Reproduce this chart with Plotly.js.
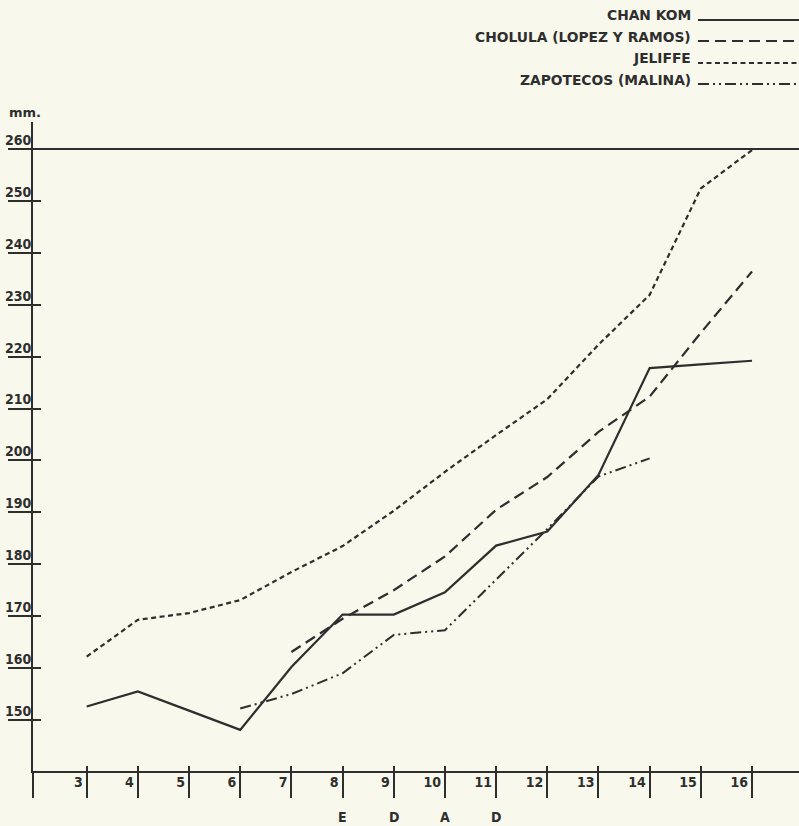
<!DOCTYPE html>
<html>
<head>
<meta charset="utf-8">
<script src="https://cdn.plot.ly/plotly-3.0.1.min.js"></script>
<style>
  html, body { margin: 0; padding: 0; background: #f8f8ec; }
  #chart { width: 799px; height: 826px; }
</style>
</head>
<body>
<div id="chart"></div>
<script>
// ---- data ----
const ages = [3, 4, 5, 6, 7, 8, 9, 10, 11, 12, 13, 14, 15, 16];
const chanKom = [152.6, 155.5, 151.8, 148.1, 160.2, 170.3, 170.3, 174.6, 183.6, 186.3, 197.2, 217.8, 218.5, 219.2];

const cholulaAges = [7, 8, 9, 10, 11, 12, 13, 14, 15, 16];
const cholula = [163.1, 169.5, 175.0, 181.5, 190.5, 196.8, 205.5, 212.3, 224.6, 236.4];

const jeliffe = [162.2, 169.3, 170.6, 173.1, 178.5, 183.5, 190.3, 197.8, 204.9, 211.8, 222.3, 231.9, 252.4, 259.8];

const zapotecosAges = [6, 7, 8, 9, 10, 11, 12, 13, 14];
const zapotecos = [152.2, 155.0, 159.0, 166.4, 167.3, 177.0, 186.8, 196.9, 200.4];

const seriesNames = ['CHAN KOM', 'CHOLULA (LOPEZ Y RAMOS)', 'JELIFFE', 'ZAPOTECOS (MALINA)'];
const yTicks = [150, 160, 170, 180, 190, 200, 210, 220, 230, 240, 250, 260];
const axisWord = ['E', 'D', 'A', 'D'];
const axisWordAges = [8, 9, 10, 11];
const unitLabel = 'mm.';

// ---- styling ----
const ink = '#2e2e2e';
const bg = '#f8f8ec';
const condFam = '"DejaVu Sans Condensed", "Liberation Sans Narrow", sans-serif';
const wideFam = '"DejaVu Sans", "Liberation Sans", sans-serif';
const W = 799, H = 826;
const M = { l: 33, r: 0, t: 122, b: 55 };
const xRange = [1.951, 16.918];
const yRange = [140.17, 265.2];
const plotH = H - M.t - M.b;
const plotW = W - M.l - M.r;
const py = (px) => (H - M.b - px) / plotH;   // pixel y -> paper y
const pxx = (px) => (px - M.l) / plotW;      // pixel x -> paper x

const dashes = ['solid', '11px,6px', '5px,3.5px', '11px,4px,2px,4px,2px,4px'];

const traces = [
  { x: ages, y: chanKom, line: { dash: dashes[0], width: 2.2 } },
  { x: cholulaAges, y: cholula, line: { dash: dashes[1], width: 2.2 } },
  { x: ages, y: jeliffe, line: { dash: dashes[2], width: 2.2 } },
  { x: zapotecosAges, y: zapotecos, line: { dash: dashes[3], width: 2 } }
].map((t, i) => Object.assign(t, {
  type: 'scatter', mode: 'lines', name: seriesNames[i],
  line: Object.assign({ color: ink }, t.line),
  hoverinfo: 'x+y+name'
}));

// legend (text right aligned, sample line on the right)
const legendTextY = [15, 37, 58, 80];
const legendLineY = [20, 41, 63, 84];
const annotations = [];
const shapes = [];
seriesNames.forEach((n, i) => {
  annotations.push({
    text: n, xref: 'paper', yref: 'paper', x: pxx(693), y: py(legendTextY[i]),
    xanchor: 'right', yanchor: 'middle', showarrow: false,
    font: { family: wideFam, size: 13.8, color: ink, weight: 'bold' }
  });
  shapes.push({
    type: 'line', xref: 'paper', yref: 'paper',
    x0: pxx(698), x1: 1, y0: py(legendLineY[i]), y1: py(legendLineY[i]),
    line: { color: ink, width: 2, dash: dashes[i] }
  });
});

// reference line at 260
shapes.push({
  type: 'line', xref: 'paper', yref: 'y', x0: 0, x1: 1, y0: 260, y1: 260,
  line: { color: ink, width: 2 }
});

// unit label
annotations.push({
  text: unitLabel, xref: 'paper', yref: 'paper', x: pxx(7), y: py(113),
  xanchor: 'left', yanchor: 'middle', showarrow: false,
  font: { family: wideFam, size: 13, color: ink, weight: 'bold' }
});

// axis word E D A D
axisWord.forEach((c, i) => {
  annotations.push({
    text: c, xref: 'x', yref: 'paper', x: axisWordAges[i], y: py(817),
    xanchor: 'center', yanchor: 'middle', showarrow: false,
    font: { family: condFam, size: 14, color: ink, weight: 'bold' }
  });
});

const tickFont = { family: condFam, size: 14, color: ink, weight: 'bold' };
const xTickVals = [xRange[0]].concat(ages);

const layout = {
  width: W, height: H,
  margin: M,
  paper_bgcolor: bg, plot_bgcolor: bg,
  showlegend: false,
  xaxis: {
    range: xRange, showgrid: false, zeroline: false,
    showline: true, linecolor: ink, linewidth: 2,
    tickmode: 'array',
    tickvals: xTickVals,
    ticktext: [''].concat(ages.map(String)),
    ticks: 'outside', ticklen: 25, tickwidth: 2, tickcolor: ink,
    ticklabelposition: 'outside left',
    ticklabelstandoff: -3,
    ticklabelshift: -2,
    tickfont: tickFont,
    fixedrange: true
  },
  xaxis2: {
    overlaying: 'x', side: 'bottom', range: xRange,
    showgrid: false, zeroline: false, showline: false,
    tickmode: 'array', tickvals: ages,
    ticks: 'inside', ticklen: 5, tickwidth: 2, tickcolor: ink,
    showticklabels: false, fixedrange: true
  },
  yaxis: {
    range: yRange, showgrid: false, zeroline: false,
    showline: true, linecolor: ink, linewidth: 2,
    tickmode: 'array', tickvals: yTicks, ticktext: yTicks.map(String),
    ticks: 'outside', ticklen: 23, tickwidth: 2, tickcolor: ink,
    ticklabelstandoff: -26,
    ticklabelshift: -9,
    tickfont: tickFont,
    fixedrange: true
  },
  yaxis2: {
    overlaying: 'y', side: 'left', range: yRange,
    showgrid: false, zeroline: false, showline: false,
    tickmode: 'array', tickvals: yTicks,
    ticks: 'inside', ticklen: 8, tickwidth: 2, tickcolor: ink,
    showticklabels: false, fixedrange: true
  },
  annotations: annotations,
  shapes: shapes
};

// empty trace so the overlay axes (inner tick stubs) are drawn
traces.push({ type: 'scatter', x: [], y: [], xaxis: 'x2', yaxis: 'y2', hoverinfo: 'skip', showlegend: false });

Plotly.newPlot('chart', traces, layout, { displayModeBar: false, staticPlot: true });
</script>
</body>
</html>
